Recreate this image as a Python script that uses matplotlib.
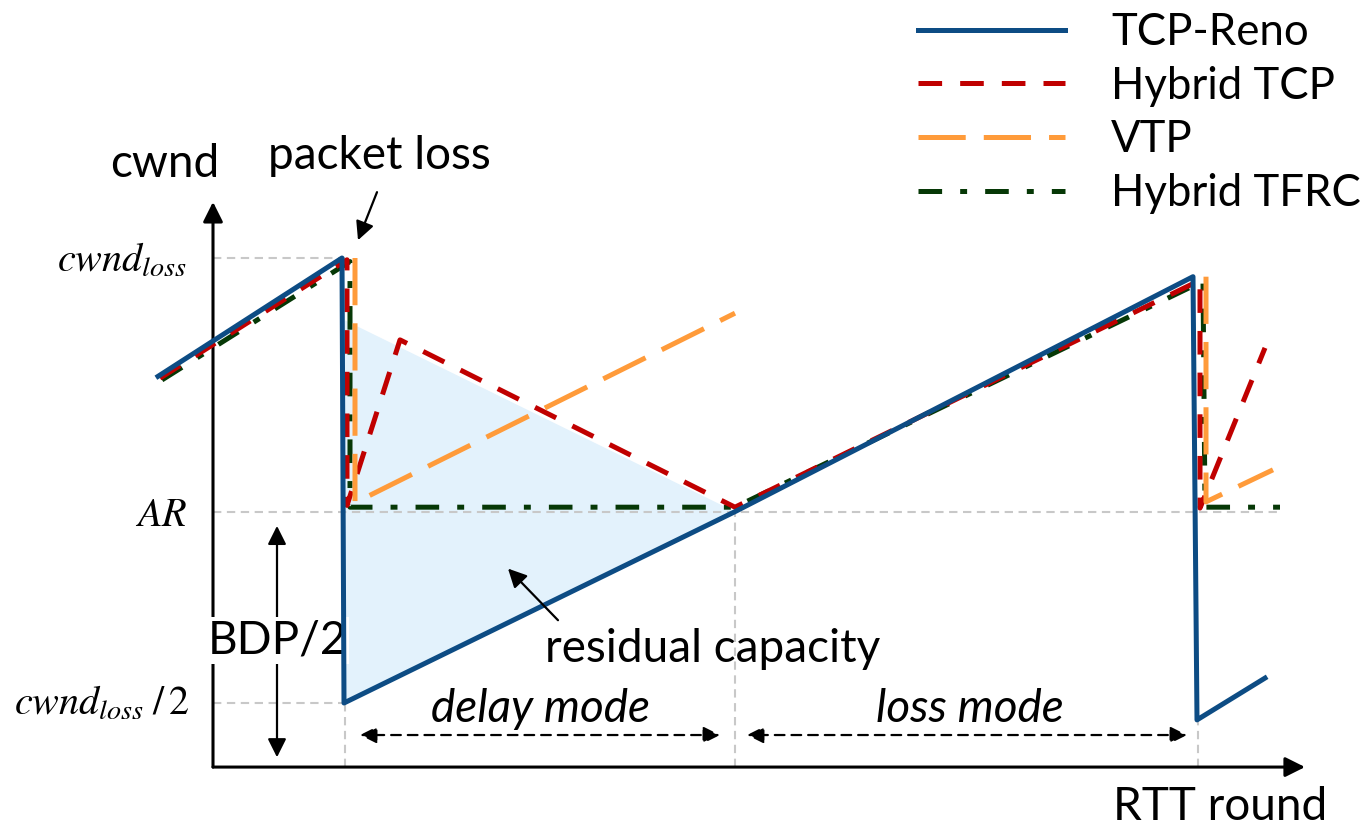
import matplotlib
matplotlib.use("Agg")
import matplotlib.pyplot as plt
import numpy as np

plt.rcParams['lines.scale_dashes'] = False
plt.rcParams['mathtext.fontset'] = 'stix'
plt.rcParams['font.family'] = ['Lato', 'DejaVu Sans']

# ---------------- data (x: RTT rounds, y: cwnd) ----------------
CWND_LOSS = 10.0
AR = 7.15
CWND_HALF = 5.0
LOSS1_X = 1.30
MODE_X = 5.20
LOSS2_X = 9.83
AXIS_X0 = -0.02
AXIS_Y0 = 4.28
AXIS_XTIP = 10.90
AXIS_YTIP = 10.63

reno_x = [-0.57, 1.27, 1.29, 5.20, 9.78, 9.82, 10.50]
reno_y = [8.67, 10.00, 5.00, 7.15, 9.79, 4.81, 5.28]

htcp_x = [-0.55, 1.32, 1.32, 1.85, 5.20, 9.85, 9.85, 10.50]
htcp_y = [8.65, 9.98, 7.22, 9.08, 7.20, 9.75, 7.19, 8.99]

vtp_x = [1.40, 1.40, 5.20, np.nan, 9.91, 9.91, 10.58]
vtp_y = [10.00, 7.25, 9.38, np.nan, 9.79, 7.26, 7.62]

htfrc_x = [-0.53, 1.35, 1.35, 5.20, 9.88, 9.90, 10.65]
htfrc_y = [8.63, 9.96, 7.20, 7.20, 9.74, 7.20, 7.20]

resid_x = [1.30, 5.20, 1.30]
resid_y = [9.30, 7.15, 5.00]

labels = ['TCP-Reno', 'Hybrid TCP', 'VTP', 'Hybrid TFRC']
colors = ['#0D4C84', '#C00000', '#FF9B3A', '#063806']

# ---------------- figure ----------------
fig = plt.figure(figsize=(13.72, 8.25), dpi=100)
ax = fig.add_axes([0, 0, 1, 1])
ax.set_xlim(-2.15, 11.57)
ax.set_ylim(3.629, 12.899)
ax.axis('off')

FS = 33
LFS = 31.5

# residual capacity fill
ax.fill(resid_x, resid_y, color='#E3F2FC', zorder=1, lw=0)

# gray guide lines
g = dict(color='#C8C8C8', lw=1.5, ls=(0, (6, 4)), zorder=2)
ax.plot([AXIS_X0, LOSS1_X], [CWND_LOSS, CWND_LOSS], **g)
ax.plot([AXIS_X0, 10.65], [AR, AR], **g)
ax.plot([AXIS_X0, LOSS1_X], [CWND_HALF, CWND_HALF], **g)
ax.plot([LOSS1_X, LOSS1_X], [AXIS_Y0, CWND_HALF], **g)
ax.plot([MODE_X, MODE_X], [AXIS_Y0, AR], **g)
ax.plot([LOSS2_X, LOSS2_X], [AXIS_Y0, 4.81], **g)

# axes with arrows
axp = dict(arrowstyle='-|>', lw=2.2, color='k', mutation_scale=30, shrinkA=0, shrinkB=0)
ax.annotate('', xy=(AXIS_X0, AXIS_YTIP), xytext=(AXIS_X0, AXIS_Y0), arrowprops=axp, zorder=3)
ax.annotate('', xy=(AXIS_XTIP, AXIS_Y0), xytext=(AXIS_X0, AXIS_Y0), arrowprops=axp, zorder=3)

LW = 3.6
h_htfrc, = ax.plot(htfrc_x, htfrc_y, color=colors[3], lw=LW, ls=(0, (17, 13, 5, 13)),
                   zorder=4, label=labels[3])
h_htcp, = ax.plot(htcp_x, htcp_y, color=colors[1], lw=LW, ls=(0, (17, 13)),
                  zorder=5, label=labels[1])
h_vtp, = ax.plot(vtp_x, vtp_y, color=colors[2], lw=LW, ls=(0, (34, 13)),
                 zorder=6, label=labels[2])
h_reno, = ax.plot(reno_x, reno_y, color=colors[0], lw=LW, zorder=7, label=labels[0])

# tick-like labels
ax.text(-0.28, 9.98, r'$cwnd_{loss}$', fontsize=29, ha='right', va='center')
ax.text(-0.28, 7.12, r'$AR$', fontsize=29, ha='right', va='center')
ax.text(-0.25, 5.00, r'$cwnd_{loss}\;/\,2$', fontsize=29, ha='right', va='center')

# axis titles
ax.text(-0.50, 10.91, 'cwnd', fontsize=FS, ha='center', va='baseline')
ax.text(10.05, 3.69, 'RTT round', fontsize=FS, ha='center', va='baseline')

# packet loss annotation
ax.text(1.64, 11.0, 'packet loss', fontsize=FS, ha='center', va='baseline')
ap = dict(arrowstyle='-|>', lw=1.6, color='k', mutation_scale=28, shrinkA=0, shrinkB=0)
ax.annotate('', xy=(1.43, 10.20), xytext=(1.62, 10.74), arrowprops=ap, zorder=8)

# residual capacity annotation
ax.text(4.98, 5.46, 'residual capacity', fontsize=FS, ha='center', va='baseline', zorder=9)
ax.annotate('', xy=(2.93, 6.51), xytext=(3.43, 5.93), arrowprops=ap, zorder=8)

# BDP/2
ax.annotate('', xy=(0.62, 6.99), xytext=(0.62, 4.39),
            arrowprops=dict(arrowstyle='<|-|>', lw=1.6, color='k', mutation_scale=28,
                            shrinkA=0, shrinkB=0), zorder=3)
ax.text(0.62, 5.70, 'BDP/2', fontsize=FS, ha='center', va='center', zorder=4,
        bbox=dict(facecolor='white', edgecolor='none', pad=2))

# mode arrows
mp = dict(arrowstyle='<|-|>', lw=1.6, color='k', mutation_scale=25, shrinkA=0, shrinkB=0,
          linestyle=(0, (7, 5)))
ax.annotate('', xy=(1.45, 4.64), xytext=(5.05, 4.64), arrowprops=mp)
ax.annotate('', xy=(5.32, 4.64), xytext=(9.72, 4.64), arrowprops=mp)
ax.text(3.26, 4.79, 'delay mode', fontsize=FS, ha='center', va='baseline', style='italic')
ax.text(7.55, 4.79, 'loss mode', fontsize=FS, ha='center', va='baseline', style='italic')

# legend
em = LFS * 100 / 72
leg = ax.legend(handles=[h_reno, h_htcp, h_vtp, h_htfrc], labels=labels,
                loc='upper left', bbox_to_anchor=(918 / 1372, 1 - 12 / 825),
                bbox_transform=fig.transFigure, frameon=False, fontsize=LFS,
                handlelength=147 / em, handletextpad=46 / em, labelspacing=0.29,
                borderpad=0, borderaxespad=0)

fig.savefig('out.png', dpi=100)
